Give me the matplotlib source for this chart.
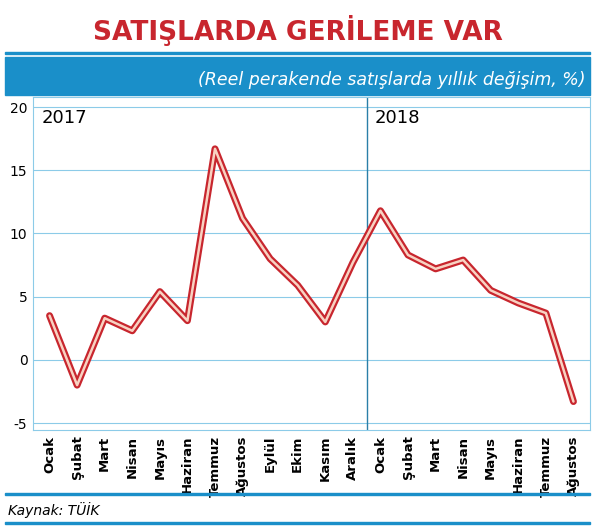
import matplotlib
matplotlib.use("Agg")
import matplotlib.pyplot as plt
from matplotlib.patches import Rectangle

months = ["Ocak","Şubat","Mart","Nisan","Mayıs","Haziran","Temmuz","Ağustos","Eylül","Ekim","Kasım","Aralık",
          "Ocak","Şubat","Mart","Nisan","Mayıs","Haziran","Temmuz","Ağustos"]
values = [3.5,-2.0,3.3,2.3,5.4,3.1,16.7,11.2,8.0,5.9,3.0,7.7,11.8,8.3,7.2,7.9,5.5,4.5,3.7,-3.3]
yticks = [-5,0,5,10,15,20]

W,H = 596,526
fig = plt.figure(figsize=(W/100,H/100), dpi=100)
blue = "#1a8fc9"
red = "#c8262e"

fig.text(0.5, 1-30/H, "SATIŞLARDA GERİLEME VAR", ha="center", va="center",
         color=red, fontsize=19, fontweight="bold", family="Liberation Sans Narrow")
fig.patches.append(Rectangle((5/W, 1-95/H), 585/W, 38/H, transform=fig.transFigure, color=blue, zorder=0))
fig.patches.append(Rectangle((5/W, 1-54/H), 585/W, 2/H, transform=fig.transFigure, color=blue, zorder=0))
fig.text(585/W, 1-80/H, "(Reel perakende satışlarda yıllık değişim, %)", ha="right", va="center",
         color="white", fontsize=12.5, style="italic")

ax = fig.add_axes([33/W, 1-430/H, 557/W, 333/H])
x = list(range(len(values)))
ax.plot(x, values, color=red, lw=5, solid_joinstyle="round", solid_capstyle="round", zorder=3)
ax.plot(x, values, color="#f8d2c2", lw=1.8, solid_joinstyle="round", solid_capstyle="round", zorder=4)
ax.set_xlim(-0.6, 19.6)
ax.set_ylim(-5.55, 20.8)
ax.set_yticks(yticks)
ax.set_yticklabels([str(v) for v in yticks], fontsize=10, family="Liberation Sans Narrow")
ax.set_xticks(x)
ax.set_xticklabels(months, rotation=90, fontsize=9.5, fontweight="bold", family="Liberation Sans Narrow")
ax.grid(axis="y", color="#8ccbe8", lw=0.8)
ax.axvline(11.5, color="#2a7fa8", lw=1)
for s in ax.spines.values():
    s.set_color("#8ccbe8")
ax.tick_params(length=0, pad=4)
ax.text(-0.3, 19.1, "2017", fontsize=13, va="center")
ax.text(11.8, 19.1, "2018", fontsize=13, va="center")

fig.patches.append(Rectangle((5/W, 1-495/H), 585/W, 2/H, transform=fig.transFigure, color=blue))
fig.patches.append(Rectangle((5/W, 1-524/H), 585/W, 2/H, transform=fig.transFigure, color=blue))
fig.text(8/W, 1-510/H, "Kaynak: TÜİK", fontsize=10, style="italic", va="center")
fig.savefig("out.png", dpi=100)
